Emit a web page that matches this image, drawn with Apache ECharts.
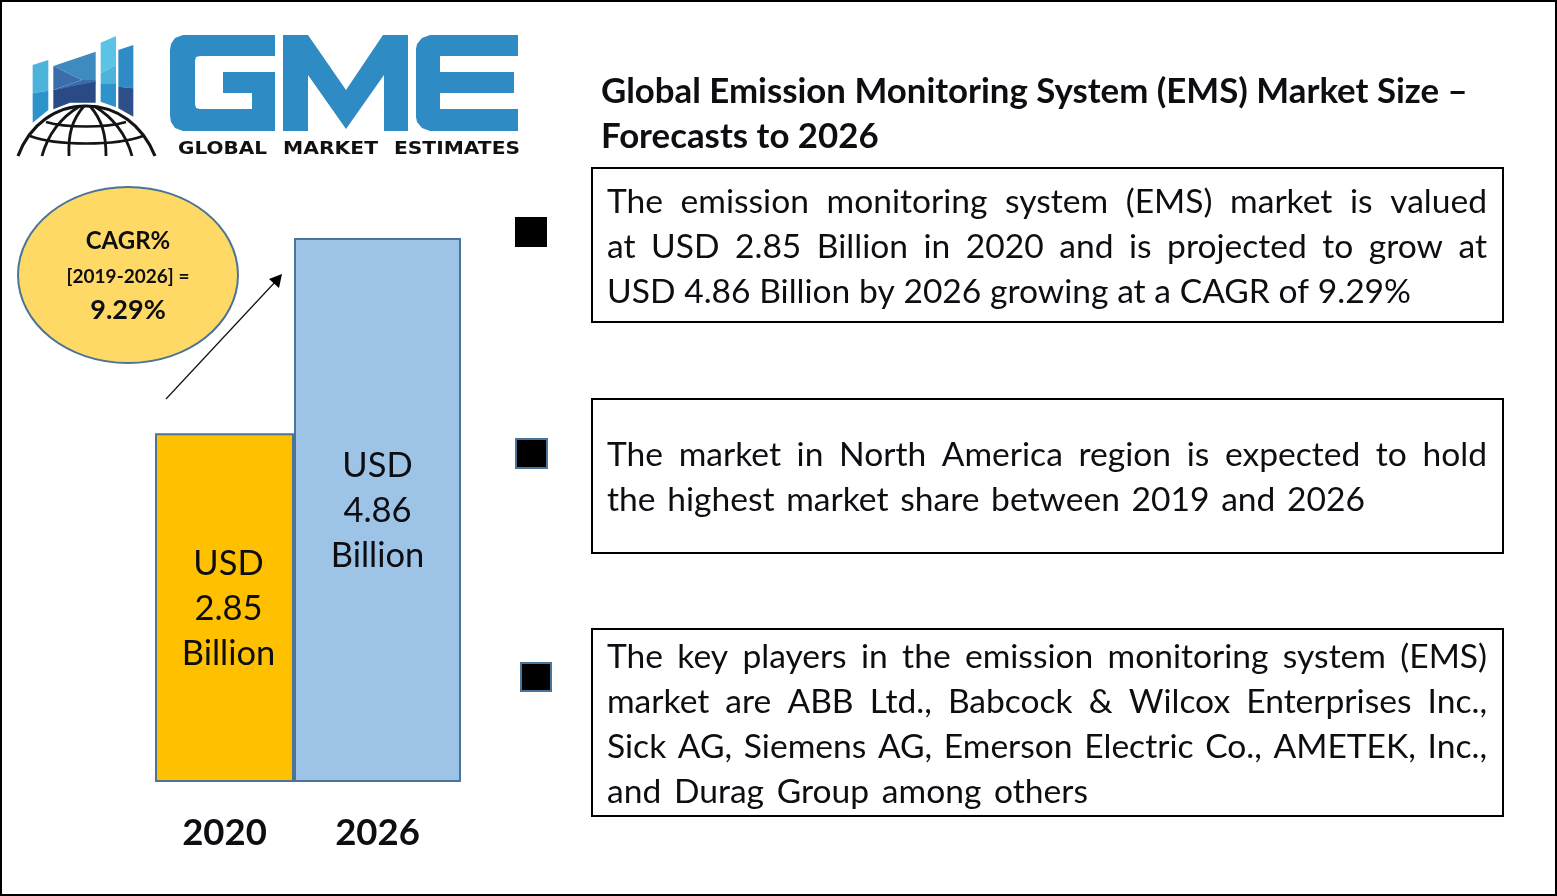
<!DOCTYPE html>
<html><head><meta charset="utf-8">
<style>html,body{margin:0;padding:0;background:#fff}#c{width:1557px;height:896px}</style>
<script src="https://cdn.jsdelivr.net/npm/echarts@6/dist/echarts.min.js"></script>
</head><body><div id="c"></div>
<script>
const categories = ['2020','2026',''];
const values2020 = [2.85, null, null];
const values2026 = [null, 4.86, null];
const titleLines = ['Global Emission Monitoring System (EMS) Market Size –','Forecasts to 2026'];
const para1 = ['The emission monitoring system (EMS) market is valued','at USD 2.85 Billion in 2020 and is projected to grow at','USD 4.86 Billion by 2026 growing at a CAGR of 9.29%'];
const para2 = ['The market in North America region is expected to hold','the highest market share between 2019 and 2026'];
const para3 = ['The key players in the emission monitoring system (EMS)','market are ABB Ltd., Babcock & Wilcox Enterprises Inc.,','Sick AG, Siemens AG, Emerson Electric Co., AMETEK, Inc.,','and Durag Group among others'];
const cagrLines = ['CAGR%','[2019-2026] =','9.29%'];
const logoWords = ['GLOBAL','MARKET','ESTIMATES'];

const FONT = 'Lato, Carlito, Calibri, sans-serif';
const INK = '#0d0d12';
const EDGE = '#4a7498';
const ctx = document.createElement('canvas').getContext('2d');
function measure(t, font){ ctx.font = font; return ctx.measureText(t).width; }
const g = [];
g.push({type:'rect',shape:{x:1,y:1,width:1555,height:894},style:{fill:'#fff',stroke:'#000',lineWidth:2},z:0});

function addText(text,x,y,font,align){
  g.push({type:'text',x,y,z:5,style:{text,x:0,y:0,font,fill:INK,textAlign:align||'left',textVerticalAlign:'middle'}});
}
function lineWords(text,x0,y,font,width){
  const words = text.split(' ');
  const sum = words.reduce((a,w)=>a+measure(w,font),0);
  const gap = (width-sum)/(words.length-1);
  let x = x0;
  words.forEach(w=>{ addText(w,x,y,font,'left'); x += measure(w,font)+gap; });
}
function box(x0,y0,x1,y1){
  g.push({type:'rect',shape:{x:x0,y:y0,width:x1-x0,height:y1-y0},style:{fill:'#fff',stroke:'#000',lineWidth:2},z:2});
}
function square(x,y,w,h,stroke){
  g.push({type:'rect',shape:{x,y,width:w,height:h},style:{fill:'#000',stroke:stroke||'#000',lineWidth:stroke?2:0},z:2});
}
const TEXT_W = 880;
const bodySize = 36*803/measure(para1[2],'36px '+FONT);
const bodyFont = bodySize.toFixed(2)+'px '+FONT;
box(592,168,1503,322); box(592,399,1503,553); box(592,629,1503,816);
para1.forEach((t,i)=>lineWords(t,607,202+45*i,bodyFont,i<2?TEXT_W:804));
para2.forEach((t,i)=>lineWords(t,607,455+45*i,bodyFont,i<1?TEXT_W:758));
para3.forEach((t,i)=>lineWords(t,607,657+45*i,bodyFont,i<3?TEXT_W:481));
square(515,217,32,30); square(516,439,31,29,EDGE); square(521,663,30,28,EDGE);

const titleSize = 33*867/measure(titleLines[0],'bold 33px '+FONT);
const titleFont = 'bold '+titleSize.toFixed(2)+'px '+FONT;
titleLines.forEach((t,i)=>addText(t,601,92+45*i,titleFont,'left'));

g.push({type:'ellipse',shape:{cx:128,cy:275,rx:110,ry:88},style:{fill:'#ffd966',stroke:EDGE,lineWidth:2},z:2});
addText(cagrLines[0],128,241,'bold 24px '+FONT,'center');
addText(cagrLines[1],128,277,'bold 19px '+FONT,'center');
addText(cagrLines[2],128,310,'bold 27px '+FONT,'center');
g.push({type:'line',shape:{x1:166,y1:399,x2:276,y2:281},style:{stroke:'#111',lineWidth:1.2},z:2});
g.push({type:'polygon',shape:{points:[[282,274],[279,288],[269,279]]},style:{fill:'#000'},z:2});

// logo
const BLUE = '#2e8bc4';
function fillPoly(points,fill){ g.push({type:'polygon',shape:{points},style:{fill},z:2}); }
fillPoly([[183,35],[275,35],[275,56],[200,56],[196,57],[195,61],[195,104],[196,108],[200,109],[252,109],[252,93],[223,93],[223,72],[275,72],[275,131],[183,131],[175,128],[171,122],[170,116],[170,50],[171,44],[175,38]],BLUE);
fillPoly([[283,131],[283,35],[308,35],[346,90],[383,35],[408,35],[408,131],[384,131],[384,75],[346,129],[308,75],[308,131]],BLUE);
fillPoly([[430,35],[518,35],[518,56],[440,56],[440,72],[514,72],[514,93],[440,93],[440,109],[518,109],[518,131],[430,131],[422,128],[417,122],[416,117],[416,49],[417,44],[422,38]],BLUE);
const z4 = p => p.map(q=>[q[0]/3+10,q[1]/3+30]);
function poly(p,fill){ fillPoly(z4(p),fill); }
poly([[68,105],[115,90],[115,182],[68,190]],'#4db3da');
poly([[68,190],[115,182],[115,240],[68,278]],'#2e93cb');
poly([[130,108],[257,65],[257,150],[215,150]],'#3f8bc0');
poly([[130,108],[215,150],[130,180]],'#3a6eab');
poly([[215,150],[257,150],[257,160],[130,180]],'#3a6eab');
poly([[130,180],[257,155],[257,218],[180,218],[130,238]],'#2a4a85');
poly([[272,38],[318,18],[318,105],[272,130]],'#5bc4e5');
poly([[272,130],[318,105],[318,160],[272,160]],'#4db3da');
poly([[272,160],[318,160],[318,232],[272,215]],'#2e93cb');
poly([[325,60],[370,45],[370,175],[325,170]],'#2e8bc6');
poly([[325,170],[370,175],[370,260],[325,235]],'#2d4f8a');
function curve(x1,y1,cx1,cy1,cx2,cy2,x2,y2,w){
  g.push({type:'bezierCurve',shape:{x1,y1,x2,y2,cpx1:cx1,cpy1:cy1,cpx2:cx2,cpy2:cy2},style:{fill:null,stroke:'#141414',lineWidth:w},z:2});
}
curve(18,156,30,124,56,106,86,106,3.2);
curve(86,106,116,106,142,124,155,156,3.2);
curve(42,156,48,134,60,118,80,106,2.8);
curve(69,156,68,134,72,120,84,106,2.8);
curve(106,156,106,134,102,120,90,106,2.8);
curve(132,156,126,134,114,118,94,106,2.8);
curve(46,122,66,128,106,128,126,122,2.6);
curve(30,136,56,146,116,146,143,136,2.6);
[[178,89],[283,95],[394,126]].forEach((b,i)=>{
  const f = 'bold 17px "DejaVu Sans"';
  const sx = b[1]/measure(logoWords[i],f);
  g.push({type:'text',x:b[0],y:150,scaleX:sx,z:5,style:{text:logoWords[i],x:0,y:0,font:f,fill:'#111',textAlign:'left',textVerticalAlign:'middle'}});
});

function bar(name,data,axis,width,color,labelShift,z){
  return {type:'bar',name,data,xAxisIndex:axis,barWidth:width,itemStyle:{color,borderColor:EDGE,borderWidth:2},
    z,silent:true,
    label:{show:true,position:'inside',offset:[labelShift,1],color:INK,fontFamily:FONT,fontSize:34.5,lineHeight:45,
      formatter:p=>'USD\n'+p.value.toFixed(2)+'\nBillion'}};
}
const chart = echarts.init(document.getElementById('c'),null,{renderer:'canvas'});
const xBase = {type:'category',data:categories,axisLine:{show:false},axisTick:{show:false},position:'bottom'};
chart.setOption({
  animation:false,
  grid:{left:148,width:459,top:238,bottom:115},
  xAxis:[
    Object.assign({},xBase,{axisLabel:{show:true,fontFamily:FONT,fontWeight:'bold',fontSize:36.5,color:INK,margin:34}}),
    Object.assign({},xBase,{axisLabel:{show:false}})
  ],
  yAxis:{type:'log',min:1.102,max:4.86,show:false,splitLine:{show:false}},
  series:[bar('2020',values2020,0,139,'#ffc000',4,3),bar('2026',values2026,1,167,'#9dc3e6',0,4)],
  graphic:{elements:g}
});
</script></body></html>
